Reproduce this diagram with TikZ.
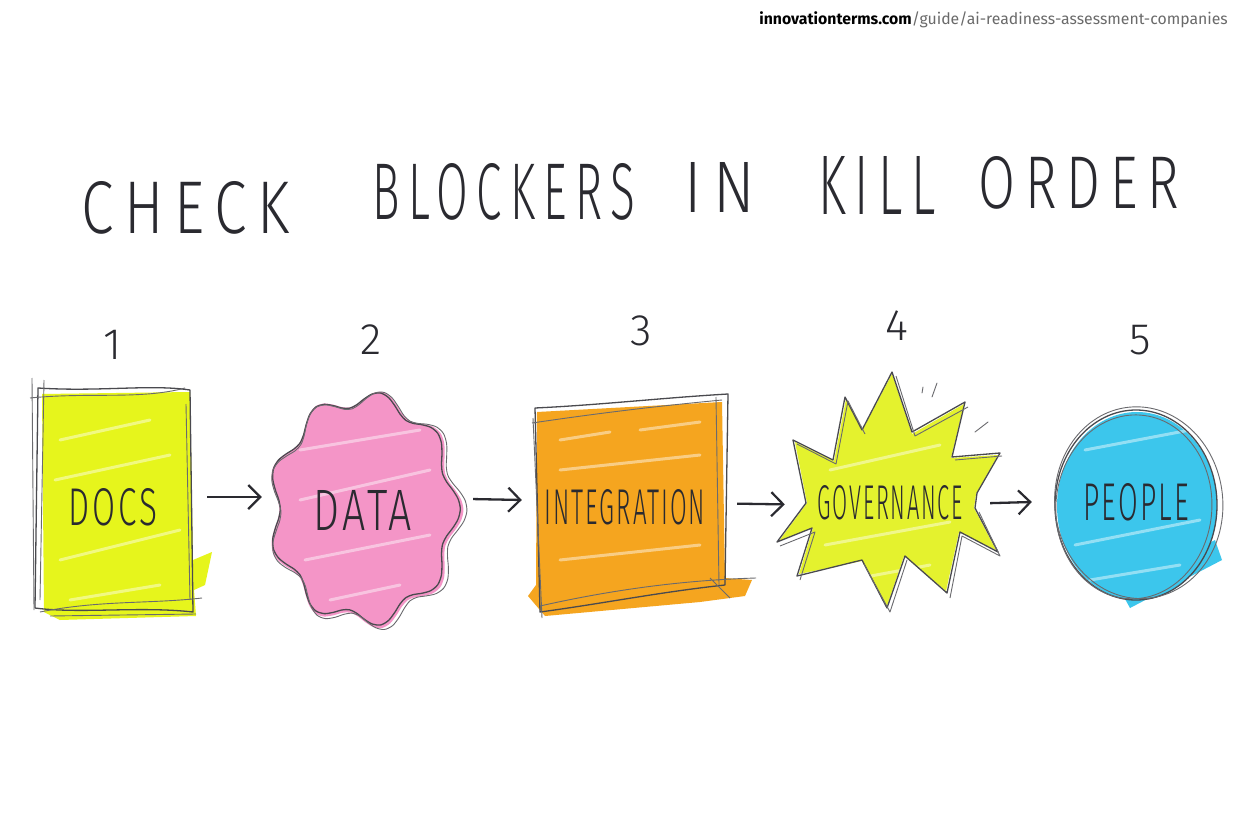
\documentclass[tikz,border=0pt]{standalone}
\usepackage{fontspec}
\setmainfont{Fira Sans}
\newfontfamily\hand{Fira Sans Light}
\usetikzlibrary{arrows.meta}
\definecolor{ink}{HTML}{2A2A30}
\definecolor{urlgray}{HTML}{6A6A6A}
\definecolor{docsy}{HTML}{E6F51C}
\definecolor{datap}{HTML}{F495C7}
\definecolor{intor}{HTML}{F5A51F}
\definecolor{govy}{HTML}{E4F22E}
\definecolor{peoc}{HTML}{3CC6EC}
\newcommand\tw[3]{\resizebox{#1pt}{#2pt}{\hand\addfontfeature{LetterSpace=18}#3}}
\newcommand\lw[3]{\resizebox{#1pt}{#2pt}{\hand\addfontfeature{LetterSpace=8}#3}}
\begin{document}
\begin{tikzpicture}[x=1pt,y=-1pt,
  outline/.style={draw=ink!85, line width=1.3pt, line join=round},
  thin/.style={draw=ink!70, line width=0.9pt, line join=round},
  streak/.style={white, opacity=0.45, line width=3pt, line cap=round},
  anchorpt/.style={inner sep=0pt, minimum size=0pt},
  arr/.style={draw=ink, line width=2.3pt, -{Straight Barb[length=12pt,width=24pt,line width=2.2pt]}},
  ttl/.style={text=ink, inner sep=0pt},
  num/.style={text=ink, inner sep=0pt, font=\hand\fontsize{44}{44}\selectfont},
  lbl/.style={text=ink, inner sep=0pt}]
\useasboundingbox (0,0) rectangle (1248,832);
\fill[white] (0,0) rectangle (1248,832);

% header
\node[anchor=east, inner sep=0pt] (url) at (1228,20) {\fontsize{15.8}{16}\selectfont\textbf{innovationterms.com}\textcolor{urlgray}{/guide/ai-readiness-assessment-companies}};

% title
\node[ttl] (t1) at (186,208) {\tw{208}{52}{CHECK}};
\node[ttl] (t2) at (504,192) {\tw{262}{56}{BLOCKERS}};
\node[ttl] (t3) at (720,187) {\tw{70}{50}{IN}};
\node[ttl] (t4) at (877,185) {\tw{118}{58}{KILL}};
\node[ttl] (t5) at (1079,183) {\tw{200}{52}{ORDER}};

% numbers
\node[num] (n1) at (113,345) {1};
\node[num] (n2) at (371,340) {2};
\node[num] (n3) at (641,331) {3};
\node[num] (n4) at (897,326) {4};
\node[num] (n5) at (1140,340) {5};

% 1 DOCS
\fill[docsy] (42,394) -- (190,392) -- (193,560) -- (212,552) -- (205,585) -- (194,590) -- (196,616) -- (60,620) -- (44,612) -- cycle;
\draw[streak] (60,440) -- (150,420) (55,480) -- (170,455) (60,560) -- (180,530) (70,600) -- (160,585);
\draw[outline] (38,388) .. controls (100,392) and (150,384) .. (190,390) -- (193,612) .. controls (140,606) and (80,614) .. (35,608) -- cycle;
\draw[thin] (32,378) -- (34,610) (30,398) .. controls (90,392) and (140,400) .. (185,388) (44,380) -- (40,600) (186,404) -- (190,600) (40,612) .. controls (100,600) and (150,604) .. (202,598) (50,616) -- (196,614);

% 2 DATA
\fill[datap] plot[smooth cycle, domain=0:355, samples=72, variable=\t] ({365+92*(1+0.07*cos(9*\t))*cos(\t)}, {510+112*(1+0.07*cos(9*\t))*sin(\t)});
\draw[streak] (300,450) -- (420,430) (300,500) -- (430,470) (305,560) -- (430,535) (330,600) -- (400,585);
\draw[outline] plot[smooth cycle, domain=0:355, samples=72, variable=\t] ({364+90*(1+0.07*cos(9*\t))*cos(\t)}, {509+110*(1+0.07*cos(9*\t))*sin(\t)});
\draw[thin] plot[smooth cycle, domain=0:355, samples=72, variable=\t] ({367+93*(1+0.075*cos(9*\t+8))*cos(\t)}, {511+112*(1+0.075*cos(9*\t+8))*sin(\t)});

% 3 INTEGRATION
\fill[intor] (537,412) -- (722,402) -- (725,578) -- (752,580) -- (745,596) -- (700,602) -- (545,616) -- (528,596) -- (536,585) -- cycle;
\draw[streak] (560,440) -- (610,432) (640,430) -- (700,422) (560,470) -- (700,455) (560,560) -- (700,545);
\draw[outline] (535,408) .. controls (600,405) and (660,398) .. (728,394) -- (725,585) .. controls (660,592) and (600,604) .. (540,612) -- cycle;
\draw[thin] (533,418) -- (542,618) (532,423) .. controls (620,410) and (680,404) .. (722,400) (716,397) -- (719,585) (540,606) .. controls (620,588) and (690,580) .. (756,578) (710,578) -- (730,598);

% 4 GOVERNANCE
\fill[govy] (892,374) -- (912,434) -- (964,404) -- (951,458) -- (998,455) -- (976,494) -- (974,508) -- (996,550) -- (959,532) -- (946,591) -- (904,556) -- (887,606) -- (862,561) -- (799,574) -- (813,528) -- (779,541) -- (807,503) -- (795,442) -- (834,461) -- (846,399) -- (862,431) -- cycle;
\draw[streak] (830,470) -- (940,445) (825,545) -- (950,522) (860,578) -- (930,565);
\draw[outline] (892,372) -- (912,432) -- (965,402) -- (952,457) -- (1000,453) -- (977,493) -- (975,508) -- (998,552) -- (960,532) -- (947,593) -- (905,556) -- (887,608) -- (862,560) -- (797,576) -- (812,528) -- (777,542) -- (806,503) -- (793,440) -- (833,460) -- (845,397) -- (862,430) -- cycle;
\draw[thin] (896,376) -- (915,436) -- (968,407) (955,460) -- (1002,456) (979,512) -- (1000,556) -- (962,536) -- (950,598) (907,560) -- (890,612) -- (864,564) (800,580) -- (815,532) -- (780,546) (797,444) -- (836,464) -- (848,401) -- (865,434);
\draw[thin, line cap=round] (922,393) -- (923,387) (932,397) -- (937,383) (975,432) -- (988,422);

% 5 PEOPLE
\fill[peoc] (1137,506) ellipse [x radius=80, y radius=94];
\fill[peoc] (1120,590) -- (1215,540) -- (1222,560) -- (1130,608) -- cycle;
\draw[streak] (1085,450) -- (1190,430) (1075,545) -- (1200,520) (1090,580) -- (1180,565);
\draw[outline] (1136,505) ellipse [x radius=81, y radius=95];
\draw[thin, rotate around={6:(1136,505)}] (1139,503) ellipse [x radius=84, y radius=96];
\draw[thin, rotate around={-4:(1136,505)}] (1134,507) ellipse [x radius=78, y radius=92];

% labels
\node[lbl] (docsl) at (113,507) {\lw{88}{37}{DOCS}};
\node[lbl] (datal) at (363,510) {\lw{98}{40}{DATA}};
\node[lbl] (intl) at (625,507) {\lw{160}{35}{INTEGRATION}};
\node[lbl] (govl) at (890,503) {\lw{145}{34}{GOVERNANCE}};
\node[lbl] (peol) at (1136,502) {\lw{106}{37}{PEOPLE}};

% connector anchors
\node[anchorpt] (docs) at (115,497) {};
\node[anchorpt] (data) at (365,497) {};
\node[anchorpt] (integ) at (628,502) {};
\node[anchorpt] (gov) at (890,506) {};
\node[anchorpt] (people) at (1137,499) {};
\draw[arr, shorten <=92pt, shorten >=103pt] (docs) -- (data);
\draw[arr, shorten <=108pt, shorten >=106pt] (data) -- (integ);
\draw[arr, shorten <=109pt, shorten >=105pt] (integ) -- (gov);
\draw[arr, shorten <=100pt, shorten >=105pt] (gov) -- (people);
\end{tikzpicture}
\end{document}
